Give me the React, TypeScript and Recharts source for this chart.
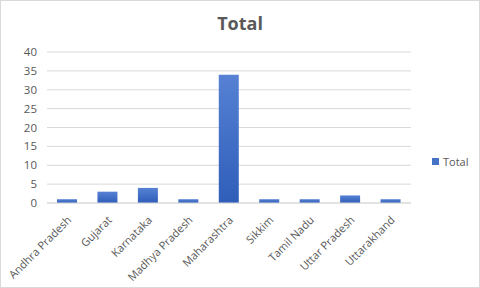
import { Bar, BarChart, CartesianGrid, Legend, XAxis, YAxis } from "recharts"

const STATES = [
  "Andhra Pradesh",
  "Gujarat",
  "Karnataka",
  "Madhya Pradesh",
  "Maharashtra",
  "Sikkim",
  "Tamil Nadu",
  "Uttar Pradesh",
  "Uttarakhand",
]
const TOTALS = [1, 3, 4, 1, 34, 1, 1, 2, 1]
const Y_TICKS = [0, 5, 10, 15, 20, 25, 30, 35, 40]

const FONT = "'Open Sans', 'Noto Sans', sans-serif"
const TEXT = "#595959"
const GRID = "#d9d9d9"

const chartData = STATES.map((state, i) => ({ state, Total: TOTALS[i] }))

const AngledTick = (props: any) => {
  const { x, y, payload } = props
  return (
    <g transform={`translate(${x + 2},${y + 7})`}>
      <text
        x={0}
        y={0}
        dy={4}
        textAnchor="end"
        transform="rotate(-45)"
        fill={TEXT}
        fontSize={11}
        fontFamily={FONT}
      >
        {payload.value}
      </text>
    </g>
  )
}

const LegendContent = () => (
  <div style={{ display: "flex", alignItems: "center", fontFamily: FONT, fontSize: 11, color: TEXT }}>
    <span style={{ width: 7, height: 7, background: "#4472c4", marginRight: 4, display: "inline-block" }} />
    Total
  </div>
)

const App = () => {
  return (
    <div
      style={{
        position: "absolute",
        left: 0,
        top: 0,
        width: 480,
        height: 288,
        background: "white",
        border: `1px solid ${GRID}`,
        boxSizing: "border-box",
      }}
    >
      <div
        style={{
          position: "absolute",
          top: 10,
          left: 0,
          width: "100%",
          textAlign: "center",
          fontFamily: FONT,
          fontWeight: 700,
          fontSize: 18,
          color: TEXT,
        }}
      >
        Total
      </div>
      <BarChart
        width={478}
        height={286}
        data={chartData}
        margin={{ top: 51, right: 22, bottom: 9, left: 0 }}
        barCategoryGap="25%"
      >
        <defs>
          <linearGradient id="barFill" x1="0" y1="0" x2="0" y2="1">
            <stop offset="0%" stopColor="#5681d4" />
            <stop offset="100%" stopColor="#2f5eb9" />
          </linearGradient>
        </defs>
        <CartesianGrid vertical={false} stroke={GRID} />
        <XAxis
          dataKey="state"
          interval={0}
          height={75}
          tick={<AngledTick />}
          tickLine={false}
          axisLine={{ stroke: GRID }}
        />
        <YAxis
          domain={[0, 40]}
          ticks={Y_TICKS}
          width={46}
          tickLine={false}
          axisLine={false}
          tickSize={0}
          tickMargin={10}
          tick={{ fill: TEXT, fontSize: 11.5, fontFamily: FONT }}
          interval={0}
        />
        <Legend
          layout="vertical"
          align="right"
          verticalAlign="middle"
          content={<LegendContent />}
          wrapperStyle={{ width: 46, left: 431, top: 153 }}
        />
        <Bar dataKey="Total" fill="url(#barFill)" barSize={20} isAnimationActive={false} />
      </BarChart>
    </div>
  )
}

export default App
